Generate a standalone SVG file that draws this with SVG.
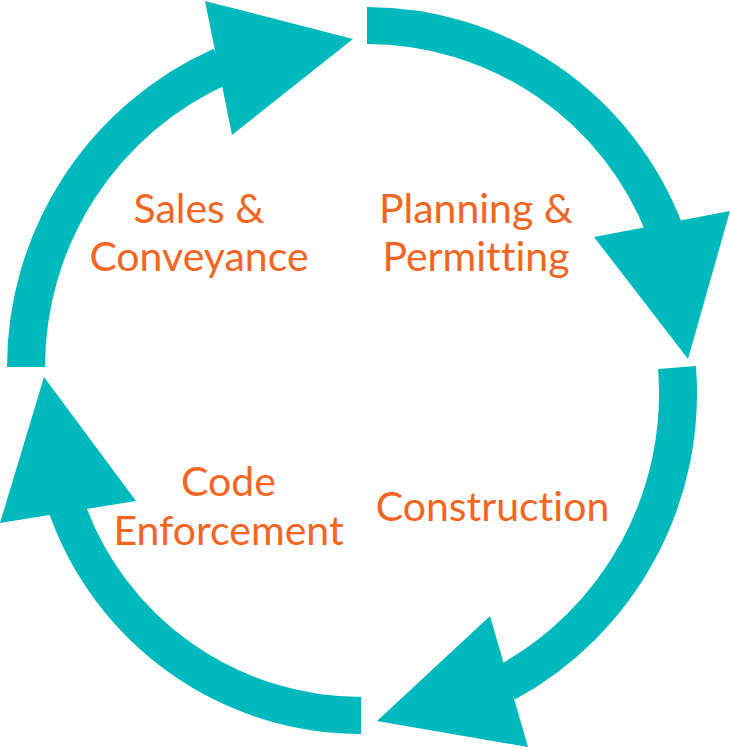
<svg xmlns="http://www.w3.org/2000/svg" width="730" height="748" viewBox="0 0 730 748">
<style>
.band{fill:none;stroke:#00B9BD;stroke-linecap:butt}
.head{fill:#00B9BD;stroke:none}
.lbl{font-family:Lato,"Open Sans","Liberation Sans",sans-serif;font-size:41px;fill:#F26522;font-variant-ligatures:none}
</style>
<rect width="730" height="748" fill="#FFFFFF"/>
<g id="connectors">
<path class="band" stroke-width="38" d="M26,367 A329.4,329.4 0 0 1 221.4,66.1"/>
<polygon class="head" points="205,1 353,39 232,135"/>
<path class="band" stroke-width="37" d="M367,25.5 A319.1,319.1 0 0 1 664.9,230.2"/>
<polygon class="head" points="594,237 730,211 688,359"/>
<path class="band" stroke-width="38" d="M677,367.5 A329.4,329.4 0 0 1 505.9,682.9"/>
<polygon class="head" points="490,616 528,747 377,721"/>
<path class="band" stroke-width="37" d="M361,715.5 A312.3,312.3 0 0 1 66.6,507.4"/>
<polygon class="head" points="136,501 44,377 0,523"/>
</g>
<g id="node-sales">
<text class="lbl" x="199" y="223" text-anchor="middle">Sales &amp;</text>
<text class="lbl" x="199" y="271" text-anchor="middle">Conveyance</text>
</g>
<g id="node-planning">
<text class="lbl" x="476" y="223" text-anchor="middle">Planning &amp;</text>
<text class="lbl" x="476" y="271" text-anchor="middle">Permitting</text>
</g>
<g id="node-construction">
<text class="lbl" x="492.5" y="521" text-anchor="middle">Construction</text>
</g>
<g id="node-code">
<text class="lbl" x="228.5" y="496" text-anchor="middle">Code</text>
<text class="lbl" x="228.5" y="545" text-anchor="middle">Enforcement</text>
</g>
</svg>
